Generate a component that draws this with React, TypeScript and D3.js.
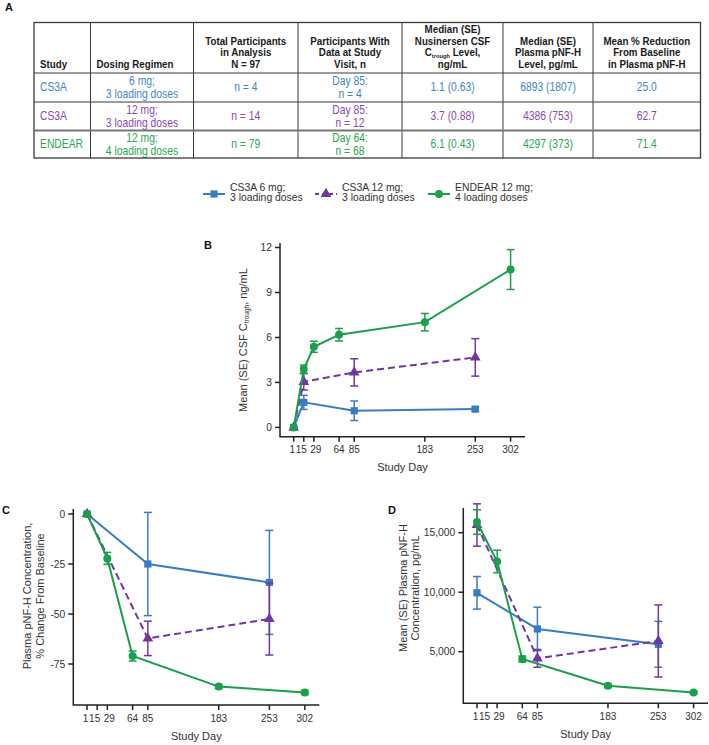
import * as d3 from "d3";

const W = 709;
const H = 745;

const BLUE = "#3a7cc4";
const PURPLE = "#7236a3";
const GREEN = "#1c9f4a";
const TXT_BLUE = "#3f86c8";
const TXT_PURPLE = "#8a49b3";
const TXT_GREEN = "#27a851";
const INK = "#333";
const SANS = "'Liberation Sans', Arial, sans-serif";
const SQUEEZE = 0.86; // table font is a condensed face, fake it

// ---- table (panel A) ----
const headers = [
  ["Study"],
  ["Dosing Regimen"],
  ["Total Participants", "in Analysis", "N = 97"],
  ["Participants With", "Data at Study", "Visit, n"],
  ["Median (SE)", "Nusinersen CSF", "C|trough| Level,", "ng/mL"],
  ["Median (SE)", "Plasma pNF-H", "Level, pg/mL"],
  ["Mean % Reduction", "From Baseline", "in Plasma pNF-H"],
];
const studies = ["CS3A", "CS3A", "ENDEAR"];
const regimens = [
  ["6 mg;", "3 loading doses"],
  ["12 mg;", "3 loading doses"],
  ["12 mg;", "4 loading doses"],
];
const totals = ["n = 4", "n = 14", "n = 79"];
const visits = [
  ["Day 85:", "n = 4"],
  ["Day 85:", "n = 12"],
  ["Day 64:", "n = 68"],
];
const csfMedian = ["1.1 (0.63)", "3.7 (0.88)", "6.1 (0.43)"];
const pnfhMedian = ["6893 (1807)", "4386 (753)", "4297 (373)"];
const reduction = ["25.0", "62.7", "71.4"];
const rowColors = [TXT_BLUE, TXT_PURPLE, TXT_GREEN];

const colEdges = [34, 90.5, 193.5, 298, 402, 503, 593, 700.5];
const rowEdges = [22.5, 73, 102, 130.5, 158];

// ---- series ----
const tickDays = [1, 15, 29, 64, 85, 183, 253, 302];
const tickNudge: Record<number, number> = { 1: -1.5, 15: -2.5, 29: 2 };

const legendNames = [
  ["CS3A 6 mg;", "3 loading doses"],
  ["CS3A 12 mg;", "3 loading doses"],
  ["ENDEAR 12 mg;", "4 loading doses"],
];

// B: CSF Ctrough, ng/mL
const csfBlueDays = [1, 15, 85, 253];
const csfBlue = [0, 1.67, 1.11, 1.22];
const csfBlueSE = [0, 0.47, 0.65, 0.15];
const csfPurpleDays = [1, 15, 85, 253];
const csfPurple = [0, 3.04, 3.67, 4.67];
const csfPurpleSE = [0, 0.55, 0.91, 1.25];
const csfGreenDays = [1, 15, 29, 64, 183, 302];
const csfGreen = [0, 3.89, 5.38, 6.18, 7.02, 10.53];
const csfGreenSE = [0, 0.27, 0.37, 0.42, 0.58, 1.33];

// C: plasma pNF-H % change from baseline
const pctBlueDays = [1, 85, 253];
const pctBlue = [0, -25, -34.2];
const pctBlueSE = [0, 25.8, 26];
const pctPurpleDays = [1, 85, 253];
const pctPurple = [0, -62.2, -52.5];
const pctPurpleSE = [0, 8.6, 18];
const pctGreenDays = [1, 29, 64, 183, 302];
const pctGreen = [0, -22.2, -71, -86.3, -89.2];
const pctGreenSE = [0, 3, 2.5, 1, 1];

// D: plasma pNF-H, pg/mL
const pgBlueDays = [1, 85, 253];
const pgBlue = [9950, 6910, 5620];
const pgBlueSE = [1370, 1830, 1930];
const pgPurpleDays = [1, 85, 253];
const pgPurple = [15650, 4440, 5900];
const pgPurpleSE = [1780, 750, 3030];
const pgGreenDays = [1, 29, 64, 183, 302];
const pgGreen = [15900, 12580, 4380, 2130, 1570];
const pgGreenSE = [1030, 950, 250, 150, 100];

type Marker = "square" | "triangle" | "circle";
type Series = { color: string; dash?: string; marker: Marker; days: number[]; mean: number[]; se: number[] };

const mk = (days: number[], mean: number[], se: number[], i: number): Series => ({
  color: [BLUE, PURPLE, GREEN][i],
  dash: i === 1 ? "7,4" : undefined,
  marker: (["square", "triangle", "circle"] as Marker[])[i],
  days,
  mean,
  se,
});

function Mark({ type, x, y, color }: { type: Marker; x: number; y: number; color: string }) {
  if (type === "square") return <rect x={x - 3.6} y={y - 3.6} width={7.2} height={7.2} fill={color} />;
  if (type === "circle") return <circle cx={x} cy={y} r={4} fill={color} />;
  const s = d3.symbol(d3.symbolTriangle, 50)() as string;
  return <path d={s} transform={`translate(${x},${y})`} fill={color} />;
}

type PanelProps = {
  letter: string;
  letterPos: [number, number];
  frame: { left: number; right: number; top: number; bottom: number };
  yDomain: [number, number];
  yTicks: number[];
  yFmt: (v: number) => string;
  series: Series[];
  ylabel: React.ReactNode[];
  ylabelX: number[];
  ylabelY: number;
};

function Panel(p: PanelProps) {
  const { frame } = p;
  const x = d3.scaleLinear().domain([-18, 322]).range([frame.left, frame.right]);
  const y = d3.scaleLinear().domain(p.yDomain).range([frame.bottom, frame.top]);
  const line = d3
    .line<[number, number]>()
    .x((d) => x(d[0]))
    .y((d) => y(d[1]));
  return (
    <g>
      <text x={p.letterPos[0]} y={p.letterPos[1]} fontFamily={SANS} fontWeight="bold" fontSize={11} fill="#111">
        {p.letter}
      </text>
      {p.series.map((s, i) => (
        <g key={i}>
          <path
            d={line(s.days.map((d, j) => [d, s.mean[j]]) as [number, number][]) ?? ""}
            fill="none"
            stroke={s.color}
            strokeWidth={2}
            strokeDasharray={s.dash}
          />
          {s.days.map((d, j) =>
            s.se[j] > 0 ? (
              <g key={j} stroke={s.color} strokeWidth={1.5}>
                <line x1={x(d)} x2={x(d)} y1={y(s.mean[j] - s.se[j])} y2={y(s.mean[j] + s.se[j])} />
                <line x1={x(d) - 4} x2={x(d) + 4} y1={y(s.mean[j] - s.se[j])} y2={y(s.mean[j] - s.se[j])} />
                <line x1={x(d) - 4} x2={x(d) + 4} y1={y(s.mean[j] + s.se[j])} y2={y(s.mean[j] + s.se[j])} />
              </g>
            ) : null
          )}
          {s.days.map((d, j) => (
            <Mark key={"m" + j} type={s.marker} x={x(d)} y={y(s.mean[j])} color={s.color} />
          ))}
        </g>
      ))}
      {/* axes */}
      <g stroke="#222" strokeWidth={1.5} fill="none">
        <path d={`M${frame.left},${frame.top}V${frame.bottom}H${frame.right}`} />
        {tickDays.map((d) => (
          <line key={d} x1={x(d)} x2={x(d)} y1={frame.bottom} y2={frame.bottom + 5} />
        ))}
        {p.yTicks.map((v) => (
          <line key={v} x1={frame.left - 5} x2={frame.left} y1={y(v)} y2={y(v)} />
        ))}
      </g>
      <g fontFamily={SANS} fontSize={10} fill={INK}>
        {tickDays.map((d) => (
          <text key={d} x={x(d) + (tickNudge[d] ?? 0)} y={frame.bottom + 16.5} textAnchor="middle">
            {d}
          </text>
        ))}
        {p.yTicks.map((v) => (
          <text key={v} x={frame.left - 8} y={y(v) + 3.6} textAnchor="end" fontSize={10.3}>
            {p.yFmt(v)}
          </text>
        ))}
        <text x={(frame.left + frame.right) / 2} y={frame.bottom + 34.5} textAnchor="middle" fontSize={11}>
          Study Day
        </text>
        {p.ylabel.map((l, i) => (
          <text
            key={i}
            transform={`translate(${p.ylabelX[i]},${p.ylabelY}) rotate(-90)`}
            textAnchor="middle"
            dy="0.35em"
            fontSize={11}
          >
            {l}
          </text>
        ))}
      </g>
    </g>
  );
}

function HeaderLine({ t }: { t: string }) {
  if (!t.includes("|")) return <>{t}</>;
  const [a, sub, b] = t.split("|");
  return (
    <>
      {a}
      <tspan fontSize={6.2} dy={2}>
        {sub}
      </tspan>
      <tspan dy={-2}>{b}</tspan>
    </>
  );
}

function Table() {
  const cx = (i: number) => (colEdges[i] + colEdges[i + 1]) / 2;
  const anchorX = (i: number) => (i < 2 ? colEdges[i] + 6 : cx(i));
  const rowMid = (r: number) => (rowEdges[r + 1] + rowEdges[r + 2]) / 2;
  const cells = (r: number) => [
    [studies[r]],
    regimens[r],
    [totals[r]],
    visits[r],
    [csfMedian[r]],
    [pnfhMedian[r]],
    [reduction[r]],
  ];
  return (
    <g>
      <text x={5} y={11} fontFamily={SANS} fontWeight="bold" fontSize={11} fill="#111">
        A
      </text>
      <g fontFamily={SANS} fontWeight="bold" fontSize={10.5} fill="#1a1a1a">
        {headers.map((lines, i) => (
          <g key={i} transform={`translate(${anchorX(i)},0) scale(0.93,1)`}>
            <text textAnchor={i < 2 ? "start" : "middle"}>
              {lines.map((l, k) => (
                <tspan key={k} x={0} y={68 - (lines.length - 1 - k) * 11.7}>
                  <HeaderLine t={l} />
                </tspan>
              ))}
            </text>
          </g>
        ))}
      </g>
      <g fontFamily={SANS} fontSize={12}>
        {studies.map((_, r) =>
          cells(r).map((lines, i) => (
            <g
              key={r + "-" + i}
              transform={`translate(${i === 0 ? colEdges[0] + 6 : cx(i)},0) scale(${SQUEEZE},1)`}
            >
              <text fill={rowColors[r]} textAnchor={i === 0 ? "start" : "middle"}>
                {lines.map((l, k) => (
                  <tspan key={k} x={0} y={rowMid(r) + 4 + (k - (lines.length - 1) / 2) * 13}>
                    {l}
                  </tspan>
                ))}
              </text>
            </g>
          ))
        )}
      </g>
      <g stroke="#3a3a3a" fill="none">
        <rect
          x={colEdges[0]}
          y={rowEdges[0]}
          width={colEdges[colEdges.length - 1] - colEdges[0]}
          height={rowEdges[rowEdges.length - 1] - rowEdges[0]}
          strokeWidth={1.3}
        />
        {colEdges.slice(1, -1).map((c) => (
          <line key={c} x1={c} x2={c} y1={rowEdges[0]} y2={rowEdges[rowEdges.length - 1]} strokeWidth={1} />
        ))}
        {rowEdges.slice(1, -1).map((r, i) => (
          <line
            key={r}
            x1={colEdges[0]}
            x2={colEdges[colEdges.length - 1]}
            y1={r}
            y2={r}
            strokeWidth={i === 2 ? 2 : 1}
            stroke={i === 2 ? "#777" : "#3a3a3a"}
          />
        ))}
      </g>
    </g>
  );
}

function Legend() {
  const xs = [203, 315, 428];
  const markers: Marker[] = ["square", "triangle", "circle"];
  const colors = [BLUE, PURPLE, GREEN];
  return (
    <g fontFamily={SANS} fontSize={10.4} fill={INK}>
      {xs.map((x0, i) => (
        <g key={i}>
          <line
            x1={x0}
            x2={x0 + 22}
            y1={194}
            y2={194}
            stroke={colors[i]}
            strokeWidth={2}
            strokeDasharray={i === 1 ? "4,3" : undefined}
          />
          <Mark type={markers[i]} x={x0 + 11} y={194} color={colors[i]} />
          <text x={x0 + 27} y={190.5}>
            {legendNames[i][0]}
          </text>
          <text x={x0 + 27} y={201}>
            {legendNames[i][1]}
          </text>
        </g>
      ))}
    </g>
  );
}

export default function App() {
  const seriesB = [
    mk(csfBlueDays, csfBlue, csfBlueSE, 0),
    mk(csfPurpleDays, csfPurple, csfPurpleSE, 1),
    mk(csfGreenDays, csfGreen, csfGreenSE, 2),
  ];
  const seriesC = [
    mk(pctBlueDays, pctBlue, pctBlueSE, 0),
    mk(pctPurpleDays, pctPurple, pctPurpleSE, 1),
    mk(pctGreenDays, pctGreen, pctGreenSE, 2),
  ];
  const seriesD = [
    mk(pgBlueDays, pgBlue, pgBlueSE, 0),
    mk(pgPurpleDays, pgPurple, pgPurpleSE, 1),
    mk(pgGreenDays, pgGreen, pgGreenSE, 2),
  ];
  return (
    <div style={{ position: "absolute", left: 0, top: 0 }}>
      <svg width={W} height={H} viewBox={`0 0 ${W} ${H}`} style={{ display: "block", background: "#fff" }}>
        <Table />
        <Legend />
        <Panel
          letter="B"
          letterPos={[204, 249]}
          frame={{ left: 280, right: 525, top: 243, bottom: 436.7 }}
          yDomain={[-0.62, 12.3]}
          yTicks={[0, 3, 6, 9, 12]}
          yFmt={(v) => String(v)}
          series={seriesB}
          ylabel={[
            <>
              Mean (SE) CSF C
              <tspan fontSize={6.5} dy={2}>
                trough
              </tspan>
              <tspan dy={-2}>, ng/mL</tspan>
            </>,
          ]}
          ylabelX={[243]}
          ylabelY={340}
        />
        <Panel
          letter="C"
          letterPos={[2, 514]}
          frame={{ left: 73.3, right: 319.3, top: 509, bottom: 705 }}
          yDomain={[-95.5, 2.5]}
          yTicks={[0, -25, -50, -75]}
          yFmt={(v) => String(v)}
          series={seriesC}
          ylabel={["Plasma pNF-H Concentration,", "% Change From Baseline"]}
          ylabelX={[26.7, 40]}
          ylabelY={596}
        />
        <Panel
          letter="D"
          letterPos={[388, 514]}
          frame={{ left: 463.3, right: 708, top: 508, bottom: 703.3 }}
          yDomain={[660, 17080]}
          yTicks={[5000, 10000, 15000]}
          yFmt={d3.format(",")}
          series={seriesD}
          ylabel={["Mean (SE) Plasma pNF-H", "Concentration, pg/mL"]}
          ylabelX={[403, 415]}
          ylabelY={588}
        />
      </svg>
    </div>
  );
}
